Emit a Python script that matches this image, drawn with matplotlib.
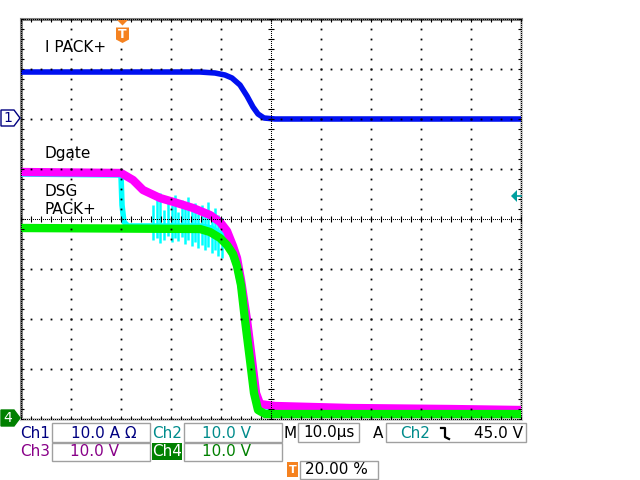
import numpy as np
import matplotlib
matplotlib.use('Agg')
import matplotlib.pyplot as plt
from matplotlib.patches import Rectangle, Polygon

# screen units: 10 horizontal divisions x 8 vertical divisions
# Ch1 - I PACK+ (blue)
t_ch1 = [0, 3.58, 3.88, 4.08, 4.22, 4.38, 4.52, 4.64, 4.74, 4.86, 5.08, 10]
v_ch1 = [6.94, 6.94, 6.92, 6.88, 6.82, 6.68, 6.46, 6.24, 6.10, 6.02, 6.00, 6.00]

# Ch2 - DSG (cyan)
t_ch2 = [0, 2.0, 2.02, 2.06, 2.14, 3.58, 3.82, 4.02, 4.18, 4.30, 4.38, 4.50, 4.60, 4.68, 4.76, 5.08, 10]
v_ch2 = [4.90, 4.88, 4.28, 3.94, 3.86, 3.86, 3.82, 3.68, 3.38, 3.08, 2.68, 1.98, 1.18, 0.52, 0.26, 0.22, 0.18]
# ringing spikes on Ch2 during the turn-off
t_spk = [2.64, 2.72, 2.78, 2.86, 2.94, 3.02, 3.08, 3.14, 3.22, 3.28, 3.34,
         3.42, 3.48, 3.54, 3.62, 3.68, 3.74, 3.82, 3.88, 3.94, 4.02]
spk_top = [4.28, 4.38, 4.52, 4.18, 4.42, 4.28, 4.48, 4.14, 4.38, 4.24, 4.44,
           4.18, 4.32, 4.10, 4.28, 4.18, 4.34, 4.14, 4.22, 4.08, 4.02]
spk_bot = [3.58, 3.62, 3.52, 3.58, 3.66, 3.54, 3.62, 3.56, 3.64, 3.50, 3.58,
           3.46, 3.54, 3.42, 3.48, 3.38, 3.44, 3.32, 3.38, 3.26, 3.22]

# Ch3 - Dgate (magenta)
t_ch3 = [0, 2.0, 2.24, 2.44, 2.78, 3.12, 3.44, 3.78, 3.98, 4.12, 4.24, 4.32,
         4.40, 4.52, 4.62, 4.70, 4.78, 5.08, 6.58, 8.58, 10]
v_ch3 = [4.94, 4.92, 4.78, 4.58, 4.42, 4.32, 4.22, 4.08, 3.94, 3.76, 3.46, 3.22,
         2.78, 1.98, 1.18, 0.52, 0.30, 0.26, 0.22, 0.20, 0.18]

# Ch4 - PACK+ (green)
t_ch4 = [0, 3.58, 3.78, 3.98, 4.12, 4.24, 4.32, 4.40, 4.48, 4.58, 4.66, 4.74, 4.88, 10]
v_ch4 = [3.82, 3.80, 3.74, 3.62, 3.48, 3.30, 3.06, 2.68, 1.98, 1.18, 0.52, 0.18, 0.10, 0.10]

labels = ['I PACK+', 'Dgate', 'DSG', 'PACK+']

W, H = 640, 480
fig = plt.figure(figsize=(6.4, 4.8), dpi=100)
ax = fig.add_axes([21 / W, 61 / H, 500 / W, 400 / H])
ax.set_xlim(0, 10)
ax.set_ylim(0, 8)
ax.set_xticks([])
ax.set_yticks([])
for s in ('top', 'left'):
    ax.spines[s].set_color('#808080')
    ax.spines[s].set_linewidth(2.2)
for s in ('right', 'bottom'):
    ax.spines[s].set_color('#c8c8c8')
    ax.spines[s].set_linewidth(2.2)

# traces
ax.vlines(t_spk, spk_bot, spk_top, color='#00ffff', lw=1.8, zorder=3)
ax.plot(t_ch2, v_ch2, color='#00ffff', lw=4, zorder=3)
ax.plot(t_ch3, v_ch3, color='#ff00ff', lw=6, zorder=4)
ax.plot(t_ch4, v_ch4, color='#00f000', lw=6, zorder=5)
ax.plot(t_ch1, v_ch1, color='#0010f0', lw=4, zorder=6)

# graticule
fine_x = np.arange(0, 10.001, 0.2)
fine_y = np.arange(0, 8.001, 0.2)
dense_x = np.arange(0, 10.001, 0.04)
dense_y = np.arange(0, 8.001, 0.04)
dot = dict(marker='s', ms=1.3, mew=0, color='black', ls='none', zorder=10)
for gx in range(1, 10):
    if gx != 5:
        ax.plot(np.full(fine_y.size, gx), fine_y, **dot)
for gy in range(1, 8):
    if gy != 4:
        ax.plot(fine_x, np.full(fine_x.size, gy), **dot)
small = dict(marker='s', ms=0.75, mew=0, color='black', ls='none', zorder=10)
for gx in (0, 5, 10):
    ax.plot(np.full(dense_y.size, gx), dense_y, **small)
    ax.plot(np.full(fine_y.size, gx), fine_y, marker='_', ms=4, mew=0.8,
            color='black', ls='none', zorder=10)
for gy in (0, 4, 8):
    ax.plot(dense_x, np.full(dense_x.size, gy), **small)
    ax.plot(fine_x, np.full(fine_x.size, gy), marker='|', ms=4, mew=0.8,
            color='black', ls='none', zorder=10)

# overlay in screen pixels for annotations and the readout
ov = fig.add_axes([0, 0, 1, 1])
ov.set_xlim(0, W)
ov.set_ylim(H, 0)
ov.axis('off')
ov.patch.set_alpha(0)

fs = 11
ov.text(45, 52, labels[0], fontsize=fs, va='baseline')
ov.text(45, 158, labels[1], fontsize=fs, va='baseline')
ov.text(45, 196, labels[2], fontsize=fs, va='baseline')
ov.text(45, 214, labels[3], fontsize=fs, va='baseline')

# channel markers
ov.add_patch(Polygon([(1, 110), (14, 110), (20, 118), (14, 126), (1, 126)],
                     closed=True, fc='white', ec='#000080', lw=1))
ov.text(8, 118.5, '1', color='#000080', fontsize=10, ha='center', va='center')
ov.add_patch(Polygon([(1, 410), (14, 410), (20, 418), (14, 426), (1, 426)],
                     closed=True, fc='#008000', ec='#008000', lw=1))
ov.text(8, 418.5, '4', color='white', fontsize=10, ha='center', va='center')

# trigger position and level
orange = '#f58220'
ov.add_patch(Polygon([(117, 20), (128, 20), (122.5, 25.5)], closed=True, fc=orange, ec='none'))
ov.add_patch(Polygon([(116, 27.5), (129, 27.5), (129, 39.5), (122.5, 43), (116, 39.5)],
                     closed=True, fc=orange, ec='none'))
ov.text(122.5, 34.5, 'T', color='white', fontsize=9, fontweight='bold', ha='center', va='center')
ov.add_patch(Polygon([(511, 196), (517, 190), (517, 202)], closed=True, fc='#00a0a0', ec='none'))
ov.plot([516, 521], [196, 196], color='#00a0a0', lw=1.2)

# readout
box = dict(fill=False, ec='#a0a0a0', lw=1)
for x0, y0, w, h in [(52, 423, 98, 19), (184, 423, 98, 19), (298, 423, 61, 19),
                     (386, 423, 140, 19), (52, 443, 98, 18), (184, 443, 98, 18),
                     (300, 461, 78, 18)]:
    ov.add_patch(Rectangle((x0, y0), w, h, **box))
ov.add_patch(Rectangle((152, 443), 30, 17, fc='#008000', ec='none'))
ov.add_patch(Rectangle((287, 462), 11, 15, fc=orange, ec='none'))

navy, teal, purple, dgreen = '#000080', '#008b8b', '#880088', '#008000'
r1, r2, r3 = 433, 451, 470
ov.text(35, r1, 'Ch1', color=navy, fontsize=fs, ha='center', va='center')
ov.text(104, r1, '10.0 A Ω', color=navy, fontsize=fs, ha='center', va='center')
ov.text(167, r1, 'Ch2', color=teal, fontsize=fs, ha='center', va='center')
ov.text(227, r1, '10.0 V', color=teal, fontsize=fs, ha='center', va='center')
ov.text(290, r1, 'M', color='black', fontsize=fs, ha='center', va='center')
ov.text(329, r1, '10.0µs', color='black', fontsize=fs, ha='center', va='center')
ov.text(378, r1, 'A', color='black', fontsize=fs, ha='center', va='center')
ov.text(415, r1, 'Ch2', color=teal, fontsize=fs, ha='center', va='center')
ov.plot([441, 445, 445, 449], [428, 428, 437, 439], color='black', lw=1.6)
ov.text(499, r1, '45.0 V', color='black', fontsize=fs, ha='center', va='center')
ov.text(35, r2, 'Ch3', color=purple, fontsize=fs, ha='center', va='center')
ov.text(94, r2, '10.0 V', color=purple, fontsize=fs, ha='center', va='center')
ov.text(167, r2, 'Ch4', color='white', fontsize=fs, ha='center', va='center')
ov.text(227, r2, '10.0 V', color=dgreen, fontsize=fs, ha='center', va='center')
ov.text(292.5, r3, 'T', color='white', fontsize=8, fontweight='bold', ha='center', va='center')
ov.text(336, r3, '20.00 %', color='black', fontsize=fs, ha='center', va='center')

fig.savefig('out.png', dpi=100, facecolor='white')
